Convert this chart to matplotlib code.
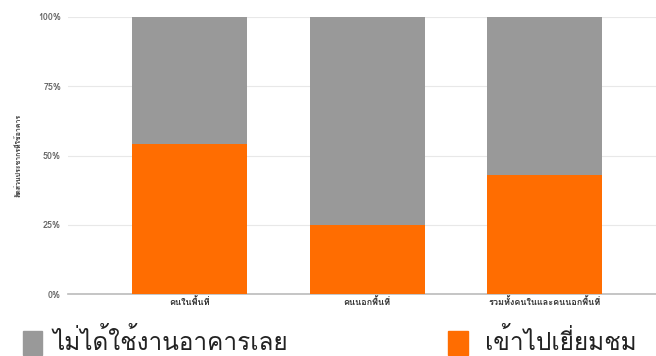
import matplotlib
matplotlib.use("Agg")
import matplotlib.pyplot as plt
from matplotlib import font_manager
from matplotlib.ft2font import FT2Font
from matplotlib.patches import Rectangle

categories = ["คนในพื้นที่", "คนนอกพื้นที่", "รวมทั้งคนในและคนนอกพื้นที่"]
visited = [54, 25, 43]
not_used = [46, 75, 57]
series_names = ["ไม่ได้ใช้งานอาคารเลย", "เข้าไปเยี่ยมชม"]
y_ticks = [0, 25, 50, 75, 100]
y_label = "สัดส่วนประชากรที่ใช้อาคาร"


def thai_fonts():
    found = []
    for f in font_manager.fontManager.ttflist:
        try:
            cmap = FT2Font(f.fname).get_charmap()
        except Exception:
            continue
        if 0x0E01 in cmap and f.name not in found:
            found.append(f.name)
    return found


thai = thai_fonts()
plt.rcParams['font.family'] = thai[:1] + ['DejaVu Sans']

fig = plt.figure(figsize=(6.56, 3.56), dpi=100)
ax = fig.add_axes([68 / 656, 62 / 356, 588 / 656, 277 / 356])

x = list(range(len(categories)))
w = 0.648
ax.bar(x, visited, width=w, color="#ff6d01", zorder=3)
ax.bar(x, not_used, bottom=visited, width=w, color="#999999", zorder=3)

ax.set_xlim(-0.685, 2.628)
ax.set_ylim(0, 100)
ax.set_yticks(y_ticks)
ax.set_yticklabels([f"{t}%" for t in y_ticks], fontsize=6.5, color="#666666",
                   fontweight="bold")
ax.set_xticks(x)
ax.set_xticklabels(categories, fontsize=6.5, color="#333333", fontweight="bold")
ax.tick_params(length=0, pad=2)
ax.tick_params(axis="y", pad=5)
ax.grid(axis="y", color="#e8e8e8", linewidth=0.8, zorder=0)
for s in ["top", "right", "left"]:
    ax.spines[s].set_visible(False)
ax.spines["bottom"].set_color("#bbbbbb")
ax.spines["bottom"].set_linewidth(1.2)
ax.set_ylabel(y_label, fontsize=5, color="#333333", labelpad=12,
              fontweight="bold")

# legend
fig.patches.append(Rectangle((23 / 656, 1 / 356), 19 / 656, 24 / 356,
                             transform=fig.transFigure, color="#999999"))
fig.text(53 / 656, 14 / 356, series_names[0], fontsize=17.5, color="#222222",
         va="center", fontweight="medium")
fig.patches.append(Rectangle((448 / 656, 1 / 356), 20 / 656, 24 / 356,
                             transform=fig.transFigure, color="#ff6d01"))
fig.text(485 / 656, 14 / 356, series_names[1], fontsize=17.5, color="#222222",
         va="center", fontweight="medium")

fig.savefig("out.png", dpi=100)
